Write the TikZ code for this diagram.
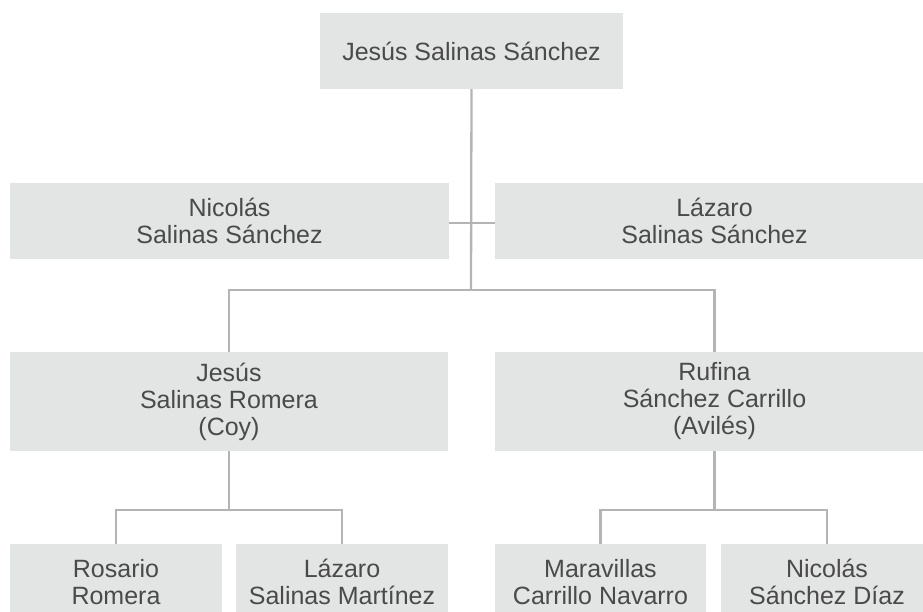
\documentclass[tikz,border=0pt]{standalone}
\usepackage{fontspec}
\setmainfont{Liberation Sans}
\usepackage{tikz}
\usetikzlibrary{positioning,calc}
\definecolor{boxgray}{HTML}{E3E4E4}
\definecolor{textgray}{HTML}{4A4A4A}
\definecolor{linegray}{HTML}{B4B4B4}

\begin{document}
\begin{tikzpicture}[x=1pt, y=-1pt,
        person/.style={fill=boxgray, text=textgray, inner sep=0pt, align=center,
            font=\fontsize{25}{27}\selectfont, minimum height=76pt},
        link/.style={draw=linegray, line width=2.3pt}]
        \useasboundingbox (0,0) rectangle (923,612);
        \clip (0,0) rectangle (923,612);

        % Father
        \node[person, minimum width=303pt] (top) at (471.5,51) {Jesús Salinas Sánchez};

        % Brothers
        \node[person, minimum width=439pt] (nic) at (229.5,221) {Nicolás\\Salinas Sánchez};
        \node[person, minimum width=439pt] (laz) at (714.5,221) {Lázaro\\Salinas Sánchez};

        % Parents
        \node[person, minimum width=438pt, minimum height=99pt] (jes) at (229,401.5) {Jesús\\Salinas Romera\\(Coy)};
        \node[person, minimum width=439pt, minimum height=99pt] (ruf) at (714.5,401.5) {Rufina\\Sánchez Carrillo\\(Avilés)};

        % Grandparents
        \node[person, minimum width=212pt] (ros) at (116,582) {Rosario\\Romera};
        \node[person, minimum width=212pt] (lazm) at (342,582) {Lázaro\\Salinas Martínez};
        \node[person, minimum width=211pt] (mar) at (600.5,582) {Maravillas\\Carrillo Navarro};
        \node[person, minimum width=212pt] (nicd) at (827,582) {Nicolás\\Sánchez Díaz};

        % Links
        \coordinate (bar) at (471,290);
        \draw[link] (top.south) -- (bar);
        \draw[link] (nic.east |- 0,223) -- (laz.west |- 0,223);
        \draw[link] (jes.north) |- (bar) -| (ruf.north);
        \draw[link] (jes.south) -- ++(0,59) coordinate (jbar);
        \draw[link] (ros.north) |- (jbar) -| (lazm.north);
        \draw[link] (ruf.south) -- ++(0,59) coordinate (rbar);
        \draw[link] (mar.north) |- (rbar) -| (nicd.north);
    \end{tikzpicture}
\end{document}
